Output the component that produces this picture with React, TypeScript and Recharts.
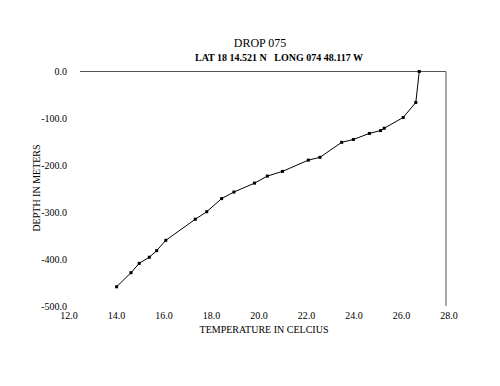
import React from 'react';
import { LineChart, Line, XAxis, YAxis, ReferenceLine } from 'recharts';

const temperature = [26.83, 26.68, 26.13, 25.3, 25.14, 24.65, 23.95, 23.44, 22.49, 21.98, 20.85, 20.19, 19.63, 18.73, 18.19, 17.54, 17.04, 15.75, 15.35, 15.03, 14.59, 14.23, 13.6];
const depth = [0, -66, -98, -121, -126, -132, -145, -151, -183, -189, -213, -223, -238, -257, -271, -299, -315, -360, -382, -396, -409, -429, -459];
const xTicks = [12, 14, 16, 18, 20, 22, 24, 26, 28];
const yTicks = [0, -100, -200, -300, -400, -500];

const data = temperature.map((t, i) => ({ t, d: depth[i] }));

const FONT = '"Liberation Serif", "Times New Roman", serif';

const XTick = (props: any) => {
  const { x, y, payload } = props;
  const v = payload.value as number;
  const dx = -11 + (v - 12) * 0.875;
  return (
    <text x={x + dx} y={y} dy="0.71em" textAnchor="middle" fontFamily={FONT} fontSize={10} fill="#000">
      {v.toFixed(1)}
    </text>
  );
};

const SquareDot = (props: any) => {
  const { cx, cy, index } = props;
  if (cx == null || cy == null) return <g key={index} />;
  return <rect key={index} x={cx - 1.5} y={cy - 1.5} width={3} height={3} fill="#000" />;
};

export default function App() {
  return (
    <div style={{ position: 'fixed', left: 0, top: 0, width: 500, height: 386, background: '#fff', fontFamily: FONT }}>
      <LineChart width={500} height={386} data={data} margin={{ top: 71.5, right: 54, bottom: 0, left: 0 }}>
        <XAxis
          dataKey="t"
          type="number"
          domain={[12, 28]}
          ticks={xTicks}
          axisLine={false}
          tickLine={false}
          tickSize={0}
          tickMargin={6}
          height={80}
          tick={<XTick />}
          interval={0}
        />
        <YAxis
          dataKey="d"
          type="number"
          domain={[-500, 0]}
          ticks={yTicks}
          axisLine={false}
          tickLine={false}
          tickSize={0}
          tickMargin={13}
          width={80}
          interval={0}
          tickFormatter={(v: number) => v.toFixed(1)}
          tick={{ fontFamily: FONT, fontSize: 10, fill: '#000' }}
        />
        <ReferenceLine y={0} stroke="#555" strokeWidth={1} />
        <ReferenceLine x={28} stroke="#555" strokeWidth={1} />
        <Line
          dataKey="d"
          stroke="#000"
          strokeWidth={1}
          dot={<SquareDot />}
          activeDot={false}
          isAnimationActive={false}
        />
      </LineChart>
      <div style={{ position: 'absolute', left: 260, top: 36, transform: 'translateX(-50%)', fontSize: 12, lineHeight: '14px', whiteSpace: 'pre', color: '#000' }}>
        DROP 075
      </div>
      <div style={{ position: 'absolute', left: 279, top: 52, transform: 'translateX(-50%)', fontSize: 10, fontWeight: 'bold', lineHeight: '12px', whiteSpace: 'pre', color: '#000' }}>
        {'LAT 18 14.521 N   LONG 074 48.117 W'}
      </div>
      <div style={{ position: 'absolute', left: 264, top: 325, transform: 'translateX(-50%)', fontSize: 10, lineHeight: '10px', whiteSpace: 'pre', color: '#000' }}>
        TEMPERATURE IN CELCIUS
      </div>
      <div style={{ position: 'absolute', left: 37, top: 188, transform: 'translate(-50%, -50%) rotate(-90deg)', fontSize: 10, lineHeight: '10px', whiteSpace: 'pre', color: '#000' }}>
        DEPTH IN METERS
      </div>
    </div>
  );
}
